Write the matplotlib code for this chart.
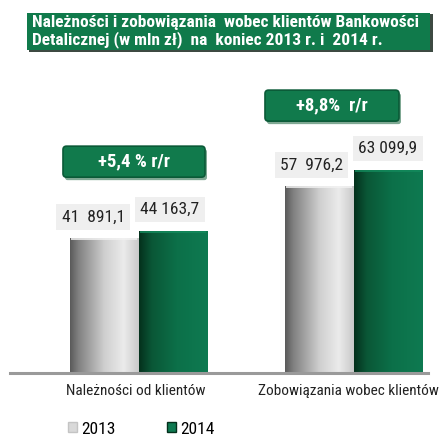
import numpy as np
import matplotlib.pyplot as plt
from matplotlib import font_manager
from matplotlib.colors import LinearSegmentedColormap
from matplotlib.patches import FancyBboxPatch, Rectangle, Patch

categories = ["Należności od klientów", "Zobowiązania wobec klientów"]
years = ["2013", "2014"]
values_2013 = [41891.1, 57976.2]
values_2014 = [44163.7, 63099.9]
labels_2013 = ["41  891,1", "57  976,2"]
labels_2014 = ["44 163,7", "63 099,9"]
growth = ["+5,4 % r/r", "+8,8%  r/r"]
title = ("Należności i zobowiązania  wobec klientów Bankowości\n"
         "Detalicznej (w mln zł)  na  koniec 2013 r. i  2014 r.")

# narrow font if there is one
FONT = "DejaVu Sans"
for name in ["Liberation Sans Narrow", "Roboto Condensed", "DejaVu Sans Condensed"]:
    try:
        font_manager.findfont(name, fallback_to_default=False)
        FONT = name
        break
    except Exception:
        pass
plt.rcParams["font.family"] = [FONT, "DejaVu Sans"]
plt.rcParams["font.stretch"] = "condensed"

W, H = 443, 438
fig = plt.figure(figsize=(W / 100, H / 100), dpi=100)

def fx(px):
    return px / W

def fy(py):
    return 1 - py / H

# axes: baseline at y=373px, x from 10 to 428px
ax = fig.add_axes([fx(10), fy(373), fx(418), (373 - 60) / H])
group_w = 215.0
XLIM = (-128.5 / group_w, -128.5 / group_w + 418 / group_w)
YLIM = (0, 313 / 0.003223)
ax.axis("off")

gray_cmap = LinearSegmentedColormap.from_list(
    "g", [(0, "#5a5a5a"), (0.12, "#808080"), (0.5, "#cfcfcf"), (0.78, "#ebebeb"), (1, "#c9c9c9")])
green_cmap = LinearSegmentedColormap.from_list(
    "gr", [(0, "#04301c"), (0.18, "#0a5636"), (0.55, "#0c7049"), (1, "#0e7a51")])

x = np.arange(len(categories))
bw = 68.5 / group_w
bars13 = ax.bar(x - bw / 2, values_2013, bw, color="none", edgecolor="none")
bars14 = ax.bar(x + bw / 2, values_2014, bw, color="none", edgecolor="none")

grad = np.linspace(0, 1, 256).reshape(1, -1)
for bars, cmap, capc in [(bars13, gray_cmap, "#f2f2f2"), (bars14, green_cmap, "#138a5c")]:
    for b in bars:
        x0, y0 = b.get_x(), b.get_y()
        w, h = b.get_width(), b.get_height()
        im = ax.imshow(grad, cmap=cmap, aspect="auto", extent=[x0, x0 + w, y0, y0 + h],
                       interpolation="bilinear", zorder=2)
        im.set_clip_path(b)
        # cylinder top rim
        ax.add_patch(Rectangle((x0 + w * 0.02, y0 + h - 600), w * 0.96, 600,
                               facecolor=capc, edgecolor="none", alpha=0.8, zorder=3))

ax.set_xlim(*XLIM)
ax.set_ylim(*YLIM)

# baseline
ax.plot(XLIM, [0, 0], color="#9a9a9a", lw=2.2, clip_on=False, zorder=4)

# value labels
for bars, labs, dxs in [(bars13, labels_2013, [-11, -8]), (bars14, labels_2014, [-3, 0])]:
    for b, lab, dx in zip(bars, labs, dxs):
        ax.annotate(lab, (b.get_x() + b.get_width() / 2, b.get_height()),
                    xytext=(dx, 21), textcoords="offset pixels", ha="center", va="center",
                    fontsize=12.5, color="#222222",
                    bbox=dict(boxstyle="square,pad=0.3", facecolor="#efefef", edgecolor="none"))

# growth badges
fig.canvas.draw()
badge_off = [(-4.5, 69, 142), (-21.5, 64, 134)]
for i, txt in enumerate(growth):
    top = max(values_2013[i], values_2014[i])
    cx, cy = ax.transData.transform((x[i], top))
    cx += badge_off[i][0]
    cy += badge_off[i][1]
    bwid, bh = badge_off[i][2], 31
    fcx, fcy = fig.transFigure.inverted().transform((cx, cy))
    wf, hf = bwid / W, bh / H
    sh = FancyBboxPatch((fcx - wf / 2 + 2 / W, fcy - hf / 2 - 3 / H), wf, hf,
                        boxstyle="round,pad=0,rounding_size=0.006", transform=fig.transFigure,
                        facecolor="#7fa893", edgecolor="none", zorder=5)
    fig.add_artist(sh)
    bp = FancyBboxPatch((fcx - wf / 2, fcy - hf / 2), wf, hf,
                        boxstyle="round,pad=0,rounding_size=0.008", transform=fig.transFigure,
                        facecolor="#117a4c", edgecolor="#0a5a37", lw=1.2, zorder=6)
    fig.add_artist(bp)
    fig.text(fcx, fcy, txt, ha="center", va="center", color="white", fontsize=13.5,
             fontweight="bold", zorder=7)

# title box
fig.add_artist(Rectangle((fx(29), fy(52)), fx(404), 38 / H, transform=fig.transFigure,
                         facecolor="#3d4a42", edgecolor="none", zorder=5))
fig.add_artist(Rectangle((fx(27), fy(50)), fx(403), 37 / H, transform=fig.transFigure,
                         facecolor="#107a4b", edgecolor="none", zorder=6))
fig.text(fx(32), fy(31.5), title, ha="left", va="center", color="white", fontsize=12.5,
         fontweight="bold", linespacing=1.05, zorder=7)

# category labels
cat_dx = [-3, -5]
for i, c in enumerate(categories):
    cx, _ = ax.transData.transform((x[i], 0))
    fig.text((cx + cat_dx[i]) / W, fy(391), c, ha="center", va="center",
             fontsize=11, color="#222222")

# legend
handles = [Patch(facecolor="#d9d9d9", edgecolor="#c4c4c4"),
           Patch(facecolor="#0e7a51", edgecolor="#04301c")]
fig.legend(handles, years, loc="center left", bbox_to_anchor=(fx(68), fy(429)), ncol=2,
           frameon=False, fontsize=12.5, handlelength=0.5, handleheight=0.5,
           handletextpad=0.25, columnspacing=3.0, borderaxespad=0, borderpad=0)

fig.savefig("out.png", dpi=100)
